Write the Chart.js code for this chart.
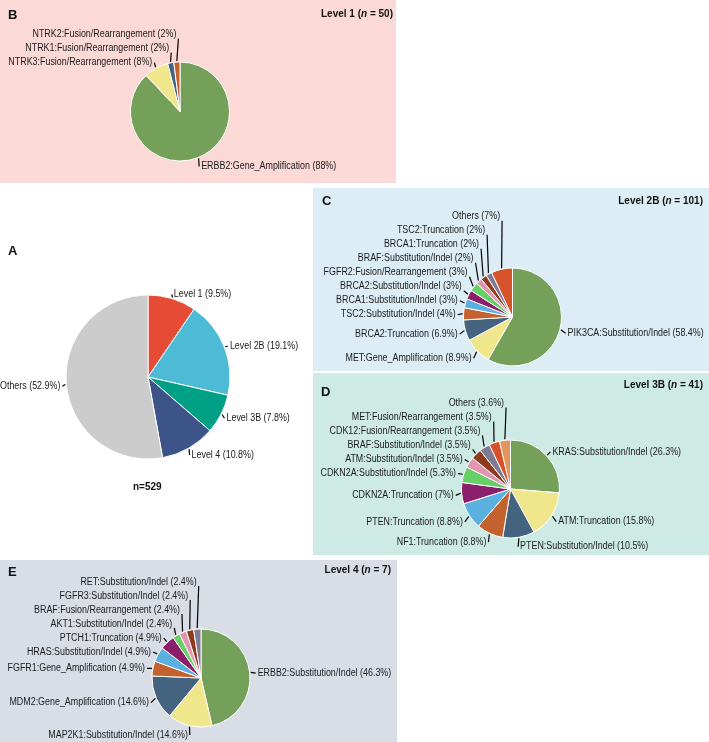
<!DOCTYPE html>
<html>
<head>
<meta charset="utf-8">
<script src="https://cdn.jsdelivr.net/npm/chart.js@4.4.0/dist/chart.umd.min.js"></script>
<style>
  html, body { margin: 0; padding: 0; background: #fff; }
  body { width: 709px; height: 742px; position: relative; overflow: hidden; font-family: "Liberation Sans", Arial, sans-serif; color: #111; }
  .panel { position: absolute; }
  .panel canvas { position: absolute; left: 0; top: 0; }
  .tag { position: absolute; font-weight: bold; font-size: 13px; line-height: 14px; }
  .head { position: absolute; font-weight: bold; font-size: 10px; line-height: 12px; white-space: nowrap; }
</style>
</head>
<body>

<div class="panel" style="left:0;top:0;width:396px;height:183px;background:#fad9d6">
  <canvas id="pieB" width="396" height="183"></canvas>
  <div class="tag" style="left:8px;top:8px">B</div>
  <div class="head" style="right:3px;top:8px">Level 1 (<i>n</i> = 50)</div>
</div>

<div class="panel" style="left:0;top:185px;width:313px;height:372px">
  <canvas id="pieA" width="313" height="372"></canvas>
  <div class="tag" style="left:8px;top:59px">A</div>
  <div class="head" style="left:133px;top:296px">n=529</div>
</div>

<div class="panel" style="left:313px;top:188px;width:396px;height:183px;background:#dcedf5">
  <canvas id="pieC" width="396" height="183"></canvas>
  <div class="tag" style="left:9px;top:6px">C</div>
  <div class="head" style="right:6px;top:7px">Level 2B (<i>n</i> = 101)</div>
</div>

<div class="panel" style="left:313px;top:373px;width:396px;height:182px;background:#cdebe4">
  <canvas id="pieD" width="396" height="182"></canvas>
  <div class="tag" style="left:8px;top:12px">D</div>
  <div class="head" style="right:6px;top:6px">Level 3B (<i>n</i> = 41)</div>
</div>

<div class="panel" style="left:0;top:560px;width:397px;height:182px;background:#d9dde6">
  <canvas id="pieE" width="397" height="182"></canvas>
  <div class="tag" style="left:8px;top:5px">E</div>
  <div class="head" style="right:6px;top:4px">Level 4 (<i>n</i> = 7)</div>
</div>

<script>
// A: all samples by evidence level
var levelNames = ["Level 1", "Level 2B", "Level 3B", "Level 4", "Others"];
var levelShares = [9.5, 19.1, 7.8, 10.8, 52.9];
var levelColors = ["#e64b35", "#4dbbd5", "#00a087", "#3c5488", "#cccccc"];

// B: Level 1
var level1Names = ["ERBB2:Gene_Amplification", "NTRK3:Fusion/Rearrangement", "NTRK1:Fusion/Rearrangement", "NTRK2:Fusion/Rearrangement"];
var level1Shares = [88, 8, 2, 2];

// C: Level 2B
var level2bNames = ["PIK3CA:Substitution/Indel", "MET:Gene_Amplification", "BRCA2:Truncation", "TSC2:Substitution/Indel",
  "BRCA1:Substitution/Indel", "BRCA2:Substitution/Indel", "FGFR2:Fusion/Rearrangement", "BRAF:Substitution/Indel",
  "BRCA1:Truncation", "TSC2:Truncation", "Others"];
var level2bShares = [58.4, 8.9, 6.9, 4, 3, 3, 3, 2, 2, 2, 7];

// D: Level 3B
var level3bNames = ["KRAS:Substitution/Indel", "ATM:Truncation", "PTEN:Substitution/Indel", "NF1:Truncation",
  "PTEN:Truncation", "CDKN2A:Truncation", "CDKN2A:Substitution/Indel", "ATM:Substitution/Indel",
  "BRAF:Substitution/Indel", "CDK12:Fusion/Rearrangement", "MET:Fusion/Rearrangement", "Others"];
var level3bShares = [26.3, 15.8, 10.5, 8.8, 8.8, 7, 5.3, 3.5, 3.5, 3.5, 3.5, 3.6];

// E: Level 4
var level4Names = ["ERBB2:Substitution/Indel", "MAP2K1:Substitution/Indel", "MDM2:Gene_Amplification", "FGFR1:Gene_Amplification",
  "HRAS:Substitution/Indel", "PTCH1:Truncation", "AKT1:Substitution/Indel", "BRAF:Fusion/Rearrangement",
  "FGFR3:Substitution/Indel", "RET:Substitution/Indel"];
var level4Shares = [46.3, 14.6, 14.6, 4.9, 4.9, 4.9, 2.4, 2.4, 2.4, 2.4];

var palette = ["#74a05a", "#f0e68c", "#44637f", "#c4622f", "#5ab1df", "#8b1f6b",
  "#66d066", "#e295b0", "#8e3a1c", "#807a92", "#d6522b", "#e2955c"];

// labels outside the pie with leader lines, stacked upward when they collide
var outsideLabels = {
  id: 'outsideLabels',
  afterDatasetsDraw: function (chart, args, opts) {
    var ctx = chart.ctx;
    var meta = chart.getDatasetMeta(0);
    var vals = chart.data.datasets[0].data;
    var names = chart.data.labels;
    var items = meta.data.map(function (arc, i) {
      var p = arc.getProps(['x', 'y', 'startAngle', 'endAngle', 'outerRadius'], true);
      var m = (p.startAngle + p.endAngle) / 2;
      var c = Math.cos(m), s = Math.sin(m);
      var R = p.outerRadius + opts.gap;
      return {
        text: names[i] + ' (' + vals[i] + '%)',
        side: c >= 0 ? 1 : -1,
        ax: p.x + (p.outerRadius + 1) * c,
        ay: p.y + (p.outerRadius + 1) * s,
        x: p.x + R * c,
        y: p.y + R * s + 1.5,
        ny: p.y + R * s + 1.5
      };
    });
    [1, -1].forEach(function (side) {
      var g = items.filter(function (d) { return d.side === side; })
                   .sort(function (a, b) { return a.y - b.y; });
      for (var i = g.length - 2; i >= 0; i--) {
        g[i].y = Math.min(g[i].y, g[i + 1].y - opts.step);
      }
    });
    ctx.save();
    ctx.font = '10px "Liberation Sans", Arial, sans-serif';
    ctx.textBaseline = 'middle';
    ctx.fillStyle = '#1a1a1a';
    ctx.strokeStyle = '#000';
    ctx.lineWidth = 1.2;
    items.forEach(function (d) {
      var moved = d.ny - d.y > 2;
      ctx.beginPath();
      ctx.moveTo(d.ax, d.ay);
      ctx.lineTo(d.x - d.side * 2, d.y + (moved ? 4 : 0));
      ctx.stroke();
      ctx.save();
      ctx.translate(d.x, d.y);
      ctx.scale(opts.squeeze, 1);
      ctx.textAlign = d.side > 0 ? 'left' : 'right';
      ctx.fillText(d.text, 0, 0);
      ctx.restore();
    });
    ctx.restore();
  }
};

function makePie(id, names, shares, colors, cx, cy, r, gap) {
  var cv = document.getElementById(id);
  var W = cv.width, H = cv.height;
  return new Chart(cv, {
    type: 'pie',
    data: {
      labels: names,
      datasets: [{
        data: shares,
        backgroundColor: colors,
        borderColor: '#ffffff',
        borderWidth: 1,
        radius: r
      }]
    },
    options: {
      responsive: false,
      animation: false,
      layout: { padding: { left: cx - r, top: cy - r, right: W - cx - r, bottom: H - cy - r } },
      plugins: {
        legend: { display: false },
        tooltip: { enabled: false },
        outsideLabels: { gap: gap, step: 14, squeeze: 0.89 }
      }
    },
    plugins: [outsideLabels]
  });
}

makePie('pieA', levelNames, levelShares, levelColors, 148, 192, 82, 6);
makePie('pieB', level1Names, level1Shares, palette, 180, 111.5, 49.5, 8);
makePie('pieC', level2bNames, level2bShares, palette, 199.5, 129, 49, 8);
makePie('pieD', level3bNames, level3bShares, palette, 197.5, 116, 49, 8);
makePie('pieE', level4Names, level4Shares, palette, 201, 118, 49, 8);
</script>
</body>
</html>
